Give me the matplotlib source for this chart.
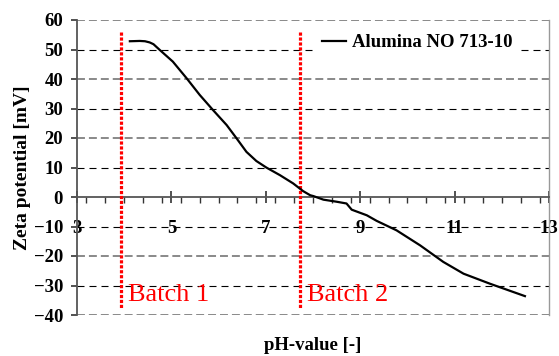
import matplotlib.pyplot as plt
import numpy as np
from matplotlib.ticker import MultipleLocator

# measured curve (pH, zeta potential in mV)
ph = [4.12, 4.33, 4.44, 4.54, 4.62, 4.75, 5.03, 5.32, 5.60, 5.88, 6.17, 6.38, 6.59,
      6.80, 7.01, 7.30, 7.58, 7.79, 7.94, 8.01, 8.15, 8.22, 8.50, 8.71, 8.82, 9.14,
      9.35, 9.77, 10.27, 10.76, 11.19, 11.75, 12.49]
zeta = [52.8, 52.9, 52.8, 52.4, 51.8, 49.9, 45.9, 40.3, 34.6, 29.5, 24.4, 19.9, 15.3,
        12.2, 10.0, 7.4, 4.6, 2.0, 0.6, 0.3, -0.5, -0.9, -1.6, -2.2, -4.3, -6.2,
        -8.1, -11.3, -16.4, -22.0, -26.0, -29.4, -33.6]
batch_ph = [3.93, 7.73]
batch_labels = ['Batch 1', 'Batch 2']
yticks = list(range(-40, 61, 10))
xticks = list(range(3, 14, 2))

plt.rcParams['font.family'] = ['Liberation Serif', 'DejaVu Serif']
plt.rcParams['font.weight'] = 'bold'

fig = plt.figure(figsize=(5.59, 3.56), dpi=100)
ax = fig.add_axes([77 / 559, 1 - 315 / 356, 472 / 559, 295 / 356])

for v in yticks:
    if v == 0:
        continue
    if (v // 10) % 2 == 0:
        ax.axhline(v, color='#808080', lw=1.3, ls=(0, (4.4, 2.2)), zorder=1)
    else:
        ax.axhline(v, color='black', lw=0.8, ls=(0, (6.3, 4.5)), zorder=1)

for xb in batch_ph:
    ax.plot([xb, xb], [56, -37.5], color='#ff0000', lw=2.3, ls=(0, (1, 0.55)),
            solid_capstyle='butt', zorder=3)

line, = ax.plot(ph, zeta, color='black', lw=1.6, zorder=4, label='Alumina NO 713-10')

for xb, lab in zip(batch_ph, batch_labels):
    ax.text(xb + 0.14, -35.1, lab, color='#ff0000', fontsize=19, fontweight='normal',
            va='baseline', ha='left', zorder=5)

ax.set_xlim(3, 13)
ax.set_ylim(-40, 60)
ax.set_xticks(xticks)
ax.xaxis.set_minor_locator(MultipleLocator(0.4))
ax.set_yticks(yticks)

ax.spines['top'].set_visible(False)
ax.spines['right'].set_color('#999999')
ax.spines['right'].set_linewidth(1.0)
ax.spines['left'].set_color('#555555')
ax.spines['left'].set_linewidth(1.3)
ax.spines['bottom'].set_position(('data', 0))
ax.spines['bottom'].set_color('#555555')
ax.spines['bottom'].set_linewidth(1.3)

ax.tick_params(axis='x', which='major', direction='inout', length=9, width=1.2,
               color='#333333', pad=12, labelsize=13.5)
ax.tick_params(axis='x', which='minor', direction='out', length=4, width=1.0,
               color='#333333')
ax.tick_params(axis='y', which='major', direction='out', length=4, width=1.2,
               color='#333333', pad=6, labelsize=13.5)
for t in ax.get_xticklabels() + ax.get_yticklabels():
    t.set_fontweight('bold')

ax.set_ylabel('Zeta potential [mV]', fontsize=14, fontweight='bold')
ax.yaxis.set_label_coords(-46 / 472, 0.5)
fig.text(313 / 559, 1 - 346 / 356, 'pH-value [-]', fontsize=13.5, fontweight='bold',
         ha='center', va='center')

leg = ax.legend(handles=[line], loc='upper right', bbox_to_anchor=(0.936, 0.975),
                frameon=True, fancybox=False, framealpha=1, edgecolor='white',
                prop={'size': 13.5, 'weight': 'bold'}, handlelength=1.3,
                handletextpad=0.3, borderpad=0.35, borderaxespad=0)
leg.set_zorder(6)

fig.savefig('out.png', dpi=100)
